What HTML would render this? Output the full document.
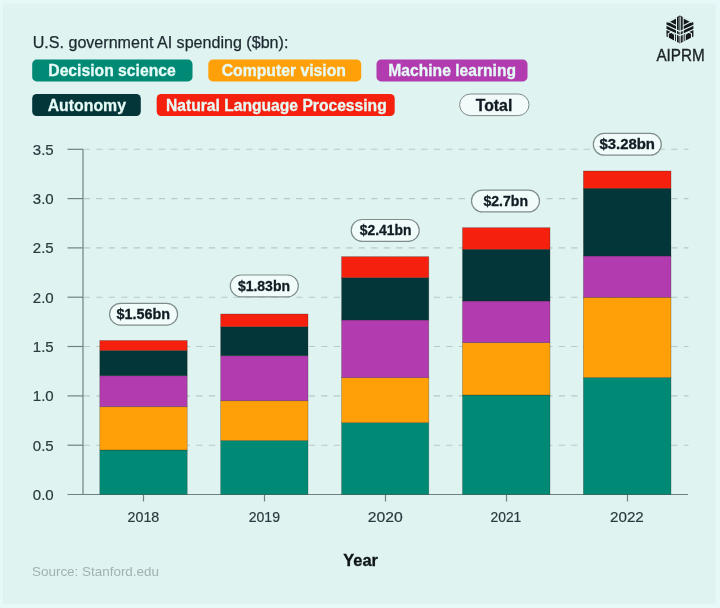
<!DOCTYPE html>
<html lang="en">
<head>
<meta charset="utf-8">
<title>U.S. government AI spending</title>
<style>
html,body{margin:0;padding:0;background:#e6f9f8;}
body{width:720px;height:608px;overflow:hidden;position:relative;font-family:"Liberation Sans",sans-serif;}
svg{position:absolute;left:0;top:0;display:block;}
text{font-family:"Liberation Sans",sans-serif;}
.ax{font-size:14.5px;fill:#2a3a3e;stroke:#2a3a3e;stroke-width:0.2px;}
.pill{font-size:14.3px;font-weight:700;fill:#111c24;stroke:#111c24;stroke-width:0.3px;}
.leg{font-size:15.6px;font-weight:700;fill:#e6faf6;stroke:#e6faf6;stroke-width:0.3px;}
</style>
</head>
<body>
<svg width="720" height="608" viewBox="0 0 720 608">
  <rect x="0" y="0" width="720" height="608" fill="#e6f9f8"/>
  <rect x="3" y="3.5" width="712.5" height="600.5" fill="#dff3f1"/>

  <!-- title -->
  <text id="title" x="32.7" y="48.3" font-size="16" fill="#1d2a30" stroke="#1d2a30" stroke-width="0.25" textLength="255.7" lengthAdjust="spacingAndGlyphs">U.S. government AI spending ($bn):</text>

  <!-- legend -->
  <g id="legend">
    <rect x="32.2" y="59.6" width="160.3" height="21.8" rx="4.5" fill="#008a76"/>
    <text class="leg" x="48.3" y="75.9" textLength="127.4" lengthAdjust="spacingAndGlyphs">Decision science</text>
    <rect x="208.3" y="59.6" width="152.9" height="21.8" rx="4.5" fill="#ffa008"/>
    <text class="leg" x="221.7" y="75.9" textLength="124.3" lengthAdjust="spacingAndGlyphs">Computer vision</text>
    <rect x="376.5" y="59.6" width="151" height="21.8" rx="4.5" fill="#b23bb0"/>
    <text class="leg" x="388.3" y="75.9" textLength="127.7" lengthAdjust="spacingAndGlyphs">Machine learning</text>
    <rect x="32.2" y="94" width="108.6" height="22" rx="4.5" fill="#033638"/>
    <text class="leg" x="47.7" y="110.5" textLength="78.3" lengthAdjust="spacingAndGlyphs">Autonomy</text>
    <rect x="156.7" y="94" width="238" height="22" rx="4.5" fill="#f5200d"/>
    <text class="leg" x="166" y="110.5" textLength="220.7" lengthAdjust="spacingAndGlyphs">Natural Language Processing</text>
    <rect x="459.6" y="94" width="69.4" height="21.6" rx="10.8" fill="#f3fbfa" stroke="#7d8b8b" stroke-width="1"/>
    <text class="pill" x="475.7" y="110.5" style="font-size:15.6px" textLength="36.6" lengthAdjust="spacingAndGlyphs">Total</text>
  </g>

  <!-- gridlines -->
  <g stroke="#b8cac8" stroke-width="1.1" stroke-dasharray="6.25 6.25" fill="none">
    <line x1="83.75" y1="149.3" x2="688.5" y2="149.3"/>
    <line x1="83.75" y1="198.6" x2="688.5" y2="198.6"/>
    <line x1="83.75" y1="247.9" x2="688.5" y2="247.9"/>
    <line x1="83.75" y1="297.2" x2="688.5" y2="297.2"/>
    <line x1="83.75" y1="346.5" x2="688.5" y2="346.5"/>
    <line x1="83.75" y1="395.9" x2="688.5" y2="395.9"/>
    <line x1="83.75" y1="445.2" x2="688.5" y2="445.2"/>
  </g>
  <!-- axes -->
  <g stroke="#6f8283" stroke-width="1.2" fill="none">
    <line x1="83" y1="149.3" x2="83" y2="494.5"/>
    <line x1="67.5" y1="494.5" x2="688" y2="494.5"/>
    <line x1="67.5" y1="149.3" x2="83" y2="149.3"/>
    <line x1="67.5" y1="198.6" x2="83" y2="198.6"/>
    <line x1="67.5" y1="247.9" x2="83" y2="247.9"/>
    <line x1="67.5" y1="297.2" x2="83" y2="297.2"/>
    <line x1="67.5" y1="346.5" x2="83" y2="346.5"/>
    <line x1="67.5" y1="395.9" x2="83" y2="395.9"/>
    <line x1="67.5" y1="445.2" x2="83" y2="445.2"/>
    <line x1="143.5" y1="494.5" x2="143.5" y2="501.5"/>
    <line x1="264.5" y1="494.5" x2="264.5" y2="501.5"/>
    <line x1="385.5" y1="494.5" x2="385.5" y2="501.5"/>
    <line x1="506.5" y1="494.5" x2="506.5" y2="501.5"/>
    <line x1="627.5" y1="494.5" x2="627.5" y2="501.5"/>
  </g>
  <!-- y labels -->
  <g class="ax">
    <text x="32.8" y="154.6" textLength="20.9" lengthAdjust="spacingAndGlyphs">3.5</text>
    <text x="32.8" y="203.9" textLength="20.9" lengthAdjust="spacingAndGlyphs">3.0</text>
    <text x="32.8" y="253.2" textLength="20.9" lengthAdjust="spacingAndGlyphs">2.5</text>
    <text x="32.8" y="302.5" textLength="20.9" lengthAdjust="spacingAndGlyphs">2.0</text>
    <text x="32.8" y="351.8" textLength="20.9" lengthAdjust="spacingAndGlyphs">1.5</text>
    <text x="32.8" y="401.2" textLength="20.9" lengthAdjust="spacingAndGlyphs">1.0</text>
    <text x="32.8" y="450.5" textLength="20.9" lengthAdjust="spacingAndGlyphs">0.5</text>
    <text x="32.8" y="499.8" textLength="20.9" lengthAdjust="spacingAndGlyphs">0.0</text>
  </g>

  <!-- bars -->
  <g id="bars" stroke="rgba(40,40,30,0.45)" stroke-width="0.6">
    <!-- 2018 -->
    <rect x="99.8" y="450" width="87.4" height="44.5" fill="#008a76"/>
    <rect x="99.8" y="406.75" width="87.4" height="43.25" fill="#ffa008"/>
    <rect x="99.8" y="375.75" width="87.4" height="31" fill="#b23bb0"/>
    <rect x="99.8" y="350.5" width="87.4" height="25.25" fill="#033638"/>
    <rect x="99.8" y="340.5" width="87.4" height="10" fill="#f5200d"/>
    <!-- 2019 -->
    <rect x="220.7" y="440.5" width="87.3" height="54" fill="#008a76"/>
    <rect x="220.7" y="400.75" width="87.3" height="39.75" fill="#ffa008"/>
    <rect x="220.7" y="355.75" width="87.3" height="45" fill="#b23bb0"/>
    <rect x="220.7" y="326.75" width="87.3" height="29" fill="#033638"/>
    <rect x="220.7" y="314" width="87.3" height="12.75" fill="#f5200d"/>
    <!-- 2020 -->
    <rect x="341.6" y="422.7" width="87.2" height="71.8" fill="#008a76"/>
    <rect x="341.6" y="377.7" width="87.2" height="45" fill="#ffa008"/>
    <rect x="341.6" y="320" width="87.2" height="57.7" fill="#b23bb0"/>
    <rect x="341.6" y="277.7" width="87.2" height="42.3" fill="#033638"/>
    <rect x="341.6" y="256.7" width="87.2" height="21" fill="#f5200d"/>
    <!-- 2021 -->
    <rect x="462.5" y="395" width="87.5" height="99.5" fill="#008a76"/>
    <rect x="462.5" y="342.7" width="87.5" height="52.3" fill="#ffa008"/>
    <rect x="462.5" y="301" width="87.5" height="41.7" fill="#b23bb0"/>
    <rect x="462.5" y="249.3" width="87.5" height="51.7" fill="#033638"/>
    <rect x="462.5" y="227.7" width="87.5" height="21.6" fill="#f5200d"/>
    <!-- 2022 -->
    <rect x="583.4" y="377.5" width="87.6" height="117" fill="#008a76"/>
    <rect x="583.4" y="297.3" width="87.6" height="80.2" fill="#ffa008"/>
    <rect x="583.4" y="256" width="87.6" height="41.3" fill="#b23bb0"/>
    <rect x="583.4" y="188.3" width="87.6" height="67.7" fill="#033638"/>
    <rect x="583.4" y="171" width="87.6" height="17.3" fill="#f5200d"/>
  </g>

  <!-- total pills -->
  <g id="totals">
    <rect x="109.6" y="303.3" width="68.0" height="21.8" rx="10.9" fill="#f1fbf9" stroke="#7f8e8d" stroke-width="1.2"/>
    <text class="pill" x="116.5" y="318.9" textLength="53.5" lengthAdjust="spacingAndGlyphs">$1.56bn</text>
    <rect x="230.3" y="275.0" width="68.0" height="21.8" rx="10.9" fill="#f1fbf9" stroke="#7f8e8d" stroke-width="1.2"/>
    <text class="pill" x="237.9" y="290.6" textLength="52.1" lengthAdjust="spacingAndGlyphs">$1.83bn</text>
    <rect x="351.2" y="219.5" width="68.0" height="21.8" rx="10.9" fill="#f1fbf9" stroke="#7f8e8d" stroke-width="1.2"/>
    <text class="pill" x="359.7" y="235.1" textLength="51.7" lengthAdjust="spacingAndGlyphs">$2.41bn</text>
    <rect x="471.5" y="190.1" width="68.0" height="21.8" rx="10.9" fill="#f1fbf9" stroke="#7f8e8d" stroke-width="1.2"/>
    <text class="pill" x="483.5" y="205.7" textLength="44.5" lengthAdjust="spacingAndGlyphs">$2.7bn</text>
    <rect x="593.3" y="133.4" width="68.0" height="21.8" rx="10.9" fill="#f1fbf9" stroke="#7f8e8d" stroke-width="1.2"/>
    <text class="pill" x="599.4" y="149.0" textLength="55.6" lengthAdjust="spacingAndGlyphs">$3.28bn</text>
  </g>

  <!-- x labels -->
  <g class="ax" text-anchor="middle">
    <text x="127.6" y="521.8" text-anchor="start" textLength="31.7" lengthAdjust="spacingAndGlyphs">2018</text>
    <text x="248.7" y="521.8" text-anchor="start" textLength="31.3" lengthAdjust="spacingAndGlyphs">2019</text>
    <text x="367.8" y="521.8" text-anchor="start" textLength="35" lengthAdjust="spacingAndGlyphs">2020</text>
    <text x="490.5" y="521.8" text-anchor="start" textLength="30.8" lengthAdjust="spacingAndGlyphs">2021</text>
    <text x="610.0" y="521.8" text-anchor="start" textLength="33.8" lengthAdjust="spacingAndGlyphs">2022</text>
  </g>
  <text id="year" x="343.3" y="565.8" font-size="16" font-weight="700" fill="#0e1418" stroke="#0e1418" stroke-width="0.3" textLength="34.7" lengthAdjust="spacingAndGlyphs">Year</text>
  <text id="source" x="32" y="576" font-size="13.5" fill="#a3b0af" textLength="127" lengthAdjust="spacingAndGlyphs">Source: Stanford.edu</text>

  <!-- logo -->
  <g id="logo">
    <polygon points="679.9,15.4 693.4,22.4 693.4,36.4 679.9,43.4 666.5,36.4 666.5,22.4" fill="#14181b"/>
    <g stroke="#dff3f1" fill="none" stroke-linecap="butt">
      <line x1="679.1" y1="16.5" x2="679.1" y2="44" stroke-width="0.7"/>
      <line x1="680.6" y1="16.5" x2="680.6" y2="44" stroke-width="0.8"/>
      <line x1="676.5" y1="17" x2="676.5" y2="44" stroke-width="1"/>
      <line x1="683.2" y1="17" x2="683.2" y2="44" stroke-width="1"/>
      <polyline points="667.5,22.4 676.5,17.6" stroke-width="1.3"/>
      <polyline points="692.3,22.4 683.2,17.6" stroke-width="1.3"/>
      <polyline points="668.5,21.6 676.6,25.8" stroke-width="1.1"/>
      <polyline points="691.3,21.6 683.1,25.8" stroke-width="1.1"/>
      <polyline points="666,25 679.9,31.6 694,25" stroke-width="1.2"/>
      <polyline points="666,29.2 679.9,35.6 694,29.2" stroke-width="1.2"/>
      <polyline points="668.3,40 668.3,33.5 671.3,32.2 674.6,34.5 674.6,43" stroke-width="1.1"/>
      <polyline points="691.5,40 691.5,33.5 688.5,32.2 685.2,34.5 685.2,43" stroke-width="1.1"/>
    </g>
    <text x="656.4" y="60.7" font-size="16" fill="#1c2226" stroke="#1c2226" stroke-width="0.35" textLength="48.3" lengthAdjust="spacingAndGlyphs">AIPRM</text>
  </g>
</svg>
</body>
</html>
